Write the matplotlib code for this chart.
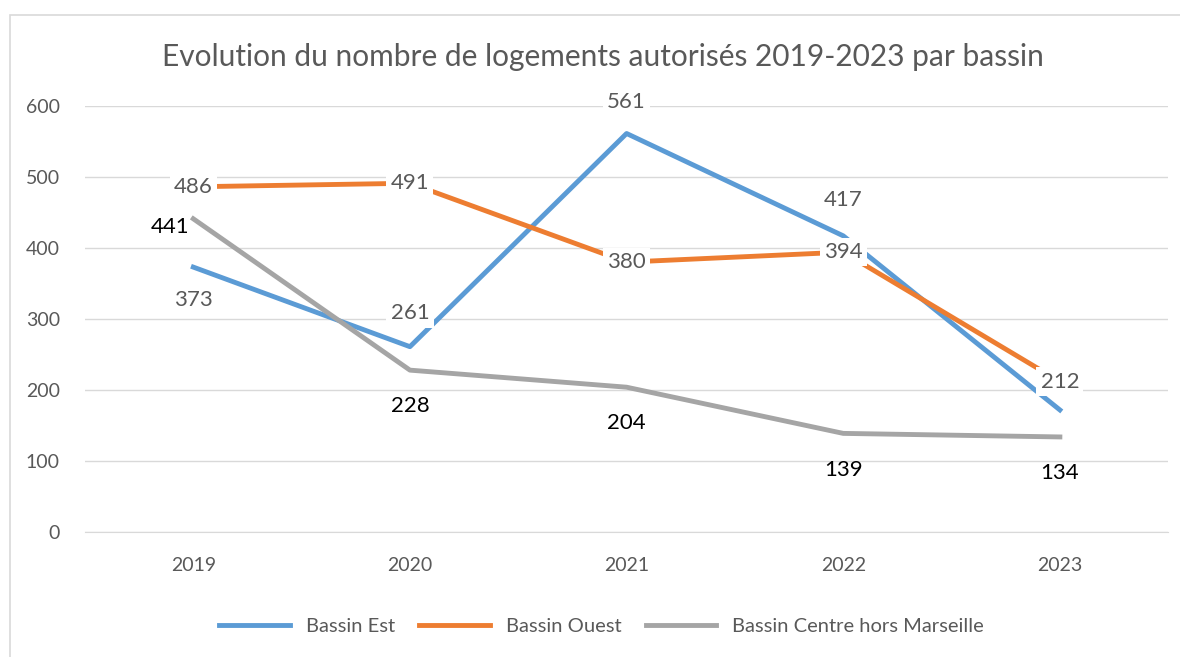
import matplotlib.pyplot as plt
from matplotlib.patches import Rectangle

years = ["2019", "2020", "2021", "2022", "2023"]
est = [373, 261, 561, 417, 172]
ouest = [486, 491, 380, 394, 212]
centre = [441, 228, 204, 139, 134]

est_labels = [373, 261, 561, 417, None]
ouest_labels = [486, 491, 380, 394, 212]
centre_labels = [441, 228, 204, 139, 134]

plt.rcParams['font.family'] = ['Lato', 'DejaVu Sans']

fig = plt.figure(figsize=(11.8, 6.57), dpi=100)
ax = fig.add_axes([0.072, 0.19, 0.918, 0.649])

# chart border
fig.patches.append(Rectangle((10 / 1180, -0.01), 1.1, 1 - 15 / 657 + 0.01,
                             transform=fig.transFigure, fill=False,
                             edgecolor="#d9d9d9", linewidth=1.2))

x = range(len(years))
ax.plot(x, est, color="#5b9bd5", linewidth=3.5, label="Bassin Est", zorder=3)
ax.plot(x, ouest, color="#ed7d31", linewidth=3.5, label="Bassin Ouest", zorder=3)
ax.plot(x, centre, color="#a5a5a5", linewidth=3.5, label="Bassin Centre hors Marseille", zorder=3)

box = dict(facecolor="white", edgecolor="none", pad=3)
fs = 16

# Bassin Est labels
est_off = [-24, 24, 23, 26, 0]
for i, v in enumerate(est_labels):
    if v is None:
        continue
    ax.annotate(str(v), (i, est[i]), xytext=(0, est_off[i]), textcoords="offset points",
                ha="center", va="center", fontsize=fs, color="#595959", bbox=box, zorder=5)

# Bassin Ouest labels (centered)
for i, v in enumerate(ouest_labels):
    ax.annotate(str(v), (i, ouest[i]), xytext=(0, 0), textcoords="offset points",
                ha="center", va="center", fontsize=fs, color="#595959", bbox=box, zorder=5)

# Bassin Centre labels
ax.annotate(str(centre_labels[0]), (0, centre[0]), xytext=(-17, -6), textcoords="offset points",
            ha="center", va="center", fontsize=fs, color="black", zorder=5)
for i in range(1, 5):
    ax.annotate(str(centre_labels[i]), (i, centre[i]), xytext=(0, -26), textcoords="offset points",
                ha="center", va="center", fontsize=fs, color="black", zorder=5)

ax.set_xlim(-0.5, 4.5)
ax.set_ylim(0, 600)
ax.set_yticks(range(0, 601, 100))
ax.set_xticks(list(x))
ax.set_xticklabels(years)
ax.grid(axis="y", color="#d9d9d9", linewidth=1)
ax.set_axisbelow(True)
for s in ["top", "right", "left"]:
    ax.spines[s].set_visible(False)
ax.spines["bottom"].set_color("#d9d9d9")
ax.tick_params(length=0, labelsize=14, colors="#595959")
ax.tick_params(axis="x", pad=18)
ax.tick_params(axis="y", pad=18)

fig.text(0.511, 0.913, "Evolution du nombre de logements autorisés 2019-2023 par bassin",
         ha="center", va="center", fontsize=21.5, color="#595959")

fig.legend(loc="center", bbox_to_anchor=(0.51, 0.046), ncol=3, frameon=False,
           fontsize=14.5, handlelength=3.5, columnspacing=1.2, labelcolor="#595959")

fig.savefig("out.png", dpi=100)
